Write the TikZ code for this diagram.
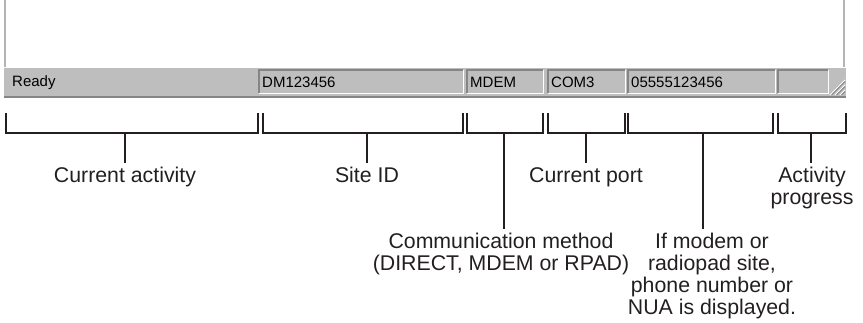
\documentclass[tikz,border=0pt]{standalone}
\usepackage{fontspec}
\setmainfont{Liberation Sans}
\definecolor{barGray}{HTML}{BEBEBE}
\definecolor{edgeDark}{HTML}{858585}
\definecolor{frameGray}{HTML}{B4B4B4}
\definecolor{ink}{HTML}{231F20}
\begin{document}
\begin{tikzpicture}[x=1pt,y=-1pt,
  brk/.style={draw=ink,line width=2.7pt},
  lbl/.style={font=\fontsize{21.3}{22}\selectfont, text=ink, align=center, inner xsep=0pt, inner ysep=4pt, anchor=north},
  stat/.style={font=\fontsize{15}{16}\selectfont, text=black, anchor=west, inner sep=0pt},
  panel/.style={rectangle, inner sep=0pt, minimum height=23pt, anchor=north west}]
\useasboundingbox (0,0) rectangle (863,323);
% window
\fill[white] (5,0) rectangle (844,67);
\draw[frameGray, line width=1.5pt] (5,0) -- (5,67);
\draw[frameGray, line width=1.5pt] (844,0) -- (844,67);
\fill[barGray] (4,67) rectangle (846,97);
\draw[white, line width=1pt] (4,67.5) -- (846,67.5);
\draw[edgeDark, line width=1.5pt] (4,97) -- (846,97);
% panels
\node[panel, minimum width=204pt] (pSite) at (259,70) {};
\node[panel, minimum width=76pt] (pMeth) at (467,70) {};
\node[panel, minimum width=77pt] (pPort) at (548,70) {};
\node[panel, minimum width=147pt] (pPhone) at (628,70) {};
\node[panel, minimum width=50pt] (pProg) at (778,70) {};
\foreach \p in {pSite,pMeth,pPort,pPhone,pProg} {
  \draw[edgeDark, line width=1.2pt] (\p.south west) -- (\p.north west) -- (\p.north east);
  \draw[white, line width=1.2pt] (\p.south west) -- (\p.south east) -- (\p.north east);
}
\node[stat] (tReady) at (12,82.5) {Ready};
\node[stat] (tSite) at ([xshift=3pt,yshift=-0.5pt]pSite.west) {DM123456};
\node[stat] (tMeth) at ([xshift=3pt,yshift=-0.5pt]pMeth.west) {MDEM};
\node[stat] (tPort) at ([xshift=3pt,yshift=-0.5pt]pPort.west) {COM3};
\node[stat] (tPhone) at ([xshift=3pt,yshift=-0.5pt]pPhone.west) {05555123456};
% size grip
\foreach \d in {0,5,10} {
  \draw[white, line width=1pt] (830+\d,95) -- (845,80+\d);
  \draw[edgeDark, line width=1pt] (831.5+\d,95) -- (845,81.5+\d);
}
% brackets
\draw[brk] (6,113) |- (258,133) -- (258,113);
\draw[brk] (263,113) |- (463,133) -- (463,113);
\draw[brk] (467,113) |- (543,133) -- (543,113);
\draw[brk] (548,113) |- (625,133) -- (625,113);
\draw[brk] (628,113) |- (773,133) -- (773,113);
\draw[brk] (778,113) |- (846,133) -- (846,113);
\coordinate (bAct) at (125,133);
\coordinate (bSite) at (367,133);
\coordinate (bMeth) at (504,133);
\coordinate (bPort) at (586,133);
\coordinate (bPhone) at (703,133);
\coordinate (bProg) at (811,133);
% labels
\node[lbl] (lAct) at (125,163) {Current activity};
\node[lbl] (lSite) at (367,163) {Site ID};
\node[lbl] (lMeth) at (501,229) {Communication method\\(DIRECT, MDEM or RPAD)};
\node[lbl] (lPort) at (586,163) {Current port};
\node[lbl] (lPhone) at (712,229) {If modem or\\radiopad site,\\phone number or\\NUA is displayed.};
\node[lbl] (lProg) at (812,163) {Activity\\progress};
% stems
\draw[brk] (bAct) -- (bAct |- lAct.north);
\draw[brk] (bSite) -- (bSite |- lSite.north);
\draw[brk] (bMeth) -- (bMeth |- lMeth.north);
\draw[brk] (bPort) -- (bPort |- lPort.north);
\draw[brk] (bPhone) -- (bPhone |- lPhone.north);
\draw[brk] (bProg) -- (bProg |- lProg.north);
\end{tikzpicture}
\end{document}
